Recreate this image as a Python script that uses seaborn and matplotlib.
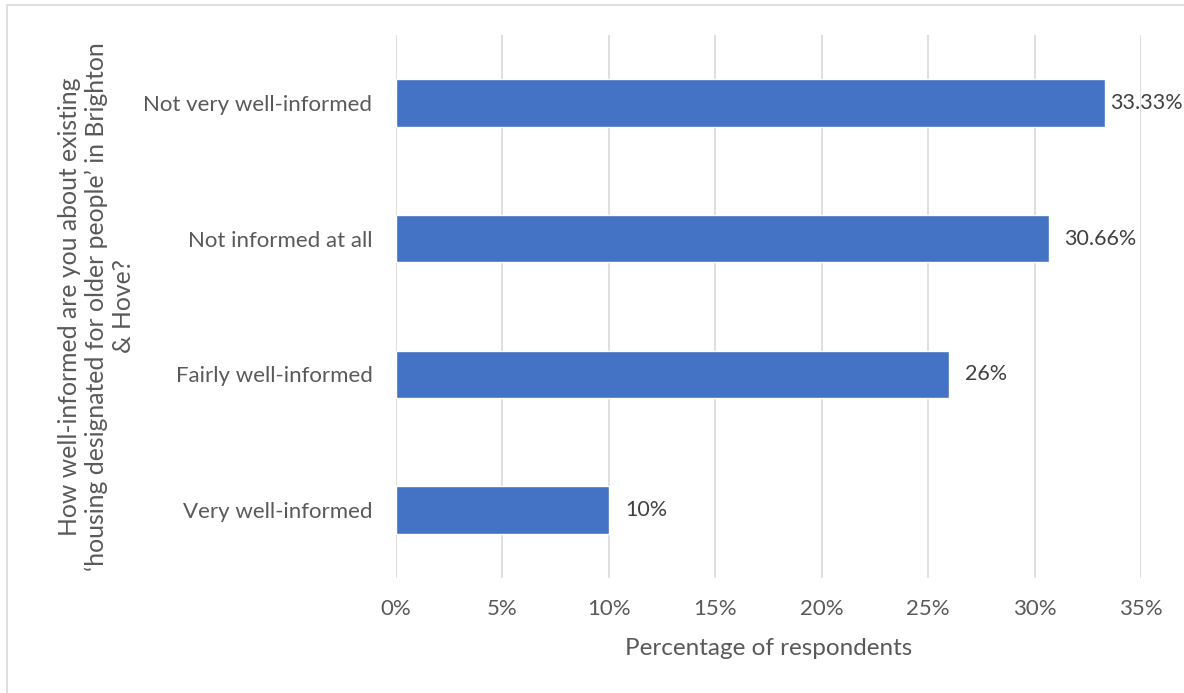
import seaborn as sns
import pandas as pd
import matplotlib.pyplot as plt
from matplotlib.patches import Rectangle
from matplotlib.ticker import FuncFormatter

# Data
categories = ['Not very well-informed', 'Not informed at all', 'Fairly well-informed', 'Very well-informed']
values = [33.33, 30.66, 26, 10]
value_labels = ['33.33%', '30.66%', '26%', '10%']

df = pd.DataFrame({'Category': categories, 'Percent': values})

sns.set_theme(style='white')
plt.rcParams['font.family'] = ['Lato', 'DejaVu Sans']

text_col = '#595959'
grid_col = '#D9D9D9'

fig = plt.figure(figsize=(11.84, 6.93), dpi=100)
ax = fig.add_axes([396 / 1184, 1 - 578 / 693, (1141 - 396) / 1184, (578 - 35) / 693])

sns.barplot(data=df, x='Percent', y='Category', color='#4472C4', width=0.35,
            saturation=1, ax=ax, zorder=3)

# value labels at end of each bar (Excel squeezes the top one to fit)
for patch, lab in zip(ax.patches, value_labels):
    y = patch.get_y() + patch.get_height() / 2
    x = min(patch.get_width() + 0.75, 33.55)
    ax.text(x, y, lab, va='center', ha='left', fontsize=15.5, color='#404040')

ax.set_xlim(0, 35)
ax.set_xticks(range(0, 36, 5))
ax.xaxis.set_major_formatter(FuncFormatter(lambda v, p: f'{int(v)}%'))
ax.grid(axis='x', color=grid_col, linewidth=1.2, zorder=0)
for s in ax.spines.values():
    s.set_visible(False)
ax.tick_params(axis='both', length=0, colors=text_col, labelsize=16)
ax.tick_params(axis='x', pad=15)
ax.tick_params(axis='y', pad=17)

ax.set_xlabel('Percentage of respondents', fontsize=17.5, color=text_col, labelpad=14)
ax.set_ylabel('How well-informed are you about existing\n\u2018housing designated for older people\u2019 in Brighton\n& Hove?',
              fontsize=17.8, color=text_col, labelpad=6, linespacing=1.2)

# chart border (image is cropped on the right and bottom)
fig.patches.append(Rectangle((7 / 1184, -0.1), 1.2, (693 - 5) / 693 + 0.1,
                             transform=fig.transFigure, fill=False,
                             edgecolor=grid_col, linewidth=1.2))

plt.savefig('out.png', dpi=100)
